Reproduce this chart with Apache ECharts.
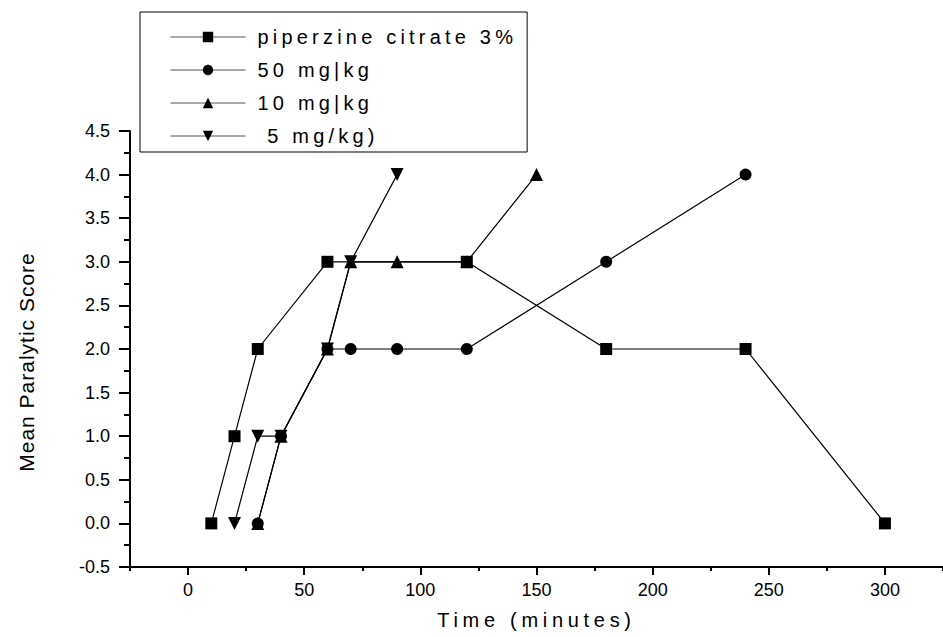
<!DOCTYPE html>
<html>
<head>
<meta charset="utf-8">
<script src="https://cdn.jsdelivr.net/npm/echarts@6/dist/echarts.min.js"></script>
<style>
  html, body { margin: 0; padding: 0; background: #fff; }
  #chart { width: 943px; height: 637px; }
</style>
</head>
<body>
<div id="chart"></div>
<script>
// series data (time in minutes, mean paralytic score)
var seriesNames = ['piperzine citrate 3%', '50 mg|kg', '10 mg|kg', ' 5 mg/kg)'];
var piperazineTimes = [10, 20, 30, 60, 120, 180, 240, 300];
var piperazineScores = [0, 1, 2, 3, 3, 2, 2, 0];
var dose50Times = [30, 40, 60, 70, 90, 120, 180, 240];
var dose50Scores = [0, 1, 2, 2, 2, 2, 3, 4];
var dose10Times = [30, 40, 60, 70, 90, 120, 150];
var dose10Scores = [0, 1, 2, 3, 3, 3, 4];
var dose5Times = [20, 30, 40, 60, 70, 90];
var dose5Scores = [0, 1, 1, 2, 3, 4];
var xMajorTicks = [0, 50, 100, 150, 200, 250, 300];
var xMinorTicks = [-25, 25, 75, 125, 175, 225, 275, 325];

var FONT = '"Liberation Sans", Arial, sans-serif';

function pairs(xs, ys) {
    return xs.map(function (x, i) { return [x, ys[i]]; });
}

var chart = echarts.init(document.getElementById('chart'), null, { renderer: 'svg' });

function makeSeries(name, xs, ys, symbol, size, rotate) {
    return {
        name: name,
        type: 'line',
        data: pairs(xs, ys),
        symbol: symbol,
        symbolSize: size,
        symbolRotate: rotate || 0,
        lineStyle: { color: '#000', width: 1.2 },
        itemStyle: { color: '#000' }
    };
}

chart.setOption({
    animation: false,
    textStyle: { fontFamily: FONT, color: '#000' },
    grid: { left: 130, right: -4, top: 131, bottom: 70 },
    legend: {
        orient: 'vertical',
        left: 140,
        top: 12,
        padding: [15, 94, 6, 30],
        itemGap: 13,
        itemWidth: 75,
        itemHeight: 13,
        borderColor: '#000',
        borderWidth: 1,
        data: seriesNames,
        lineStyle: { width: 1, color: '#555' },
        textStyle: { fontFamily: FONT, fontSize: 20, color: '#000', lineHeight: 20, padding: [0, 0, 0, 7] }
    },
    xAxis: [{
        type: 'value',
        min: -25,
        max: 325,
        name: 'Time (minutes)',
        nameLocation: 'middle',
        nameGap: 43,
        nameTextStyle: { fontFamily: FONT, fontSize: 20, color: '#000' },
        splitLine: { show: false },
        axisLine: { onZero: false, lineStyle: { color: '#000', width: 2 } },
        axisTick: { customValues: xMajorTicks, length: 8, lineStyle: { color: '#000', width: 2 } },
        axisLabel: { customValues: xMajorTicks, margin: 14, fontSize: 18, color: '#000', fontFamily: FONT }
    }, {
        type: 'value',
        min: -25,
        max: 325,
        position: 'bottom',
        splitLine: { show: false },
        axisLine: { show: false, onZero: false },
        axisTick: { customValues: xMinorTicks, length: 4, lineStyle: { color: '#000', width: 2 } },
        axisLabel: { show: false }
    }],
    yAxis: {
        type: 'value',
        min: -0.5,
        max: 4.5,
        interval: 0.5,
        name: 'Mean Paralytic Score',
        nameLocation: 'middle',
        nameGap: 93,
        nameTextStyle: { fontFamily: FONT, fontSize: 21, color: '#000', padding: [0, 26, 0, 0] },
        splitLine: { show: false },
        axisLine: { onZero: false, lineStyle: { color: '#000', width: 2 } },
        axisTick: { length: 11, lineStyle: { color: '#000', width: 2 } },
        minorTick: { show: true, splitNumber: 2, length: 6, lineStyle: { color: '#000', width: 2 } },
        axisLabel: {
            margin: 20,
            fontSize: 18,
            color: '#000',
            fontFamily: FONT,
            formatter: function (v) { return v.toFixed(1); }
        }
    },
    series: [
        makeSeries(seriesNames[0], piperazineTimes, piperazineScores, 'rect', 12),
        makeSeries(seriesNames[1], dose50Times, dose50Scores, 'circle', 12),
        makeSeries(seriesNames[2], dose10Times, dose10Scores, 'triangle', 13),
        makeSeries(seriesNames[3], dose5Times, dose5Scores, 'triangle', 13, 180)
    ]
});

// the original figure has widely tracked text in the legend and axis titles
var spacing = {
    'Time (minutes)': 4.7,
    'Mean Paralytic Score': 1
};
seriesNames.forEach(function (n) { spacing[n.trim()] = 4.2; });

function applySpacing() {
    var texts = document.querySelectorAll('#chart text');
    texts.forEach(function (t) {
        var s = spacing[t.textContent.trim()];
        if (s) {
            t.setAttribute('letter-spacing', s + 'px');
            t.style.letterSpacing = s + 'px';
        }
    });
}
chart.on('finished', applySpacing);
setTimeout(applySpacing, 0);
setTimeout(applySpacing, 50);
</script>
</body>
</html>
